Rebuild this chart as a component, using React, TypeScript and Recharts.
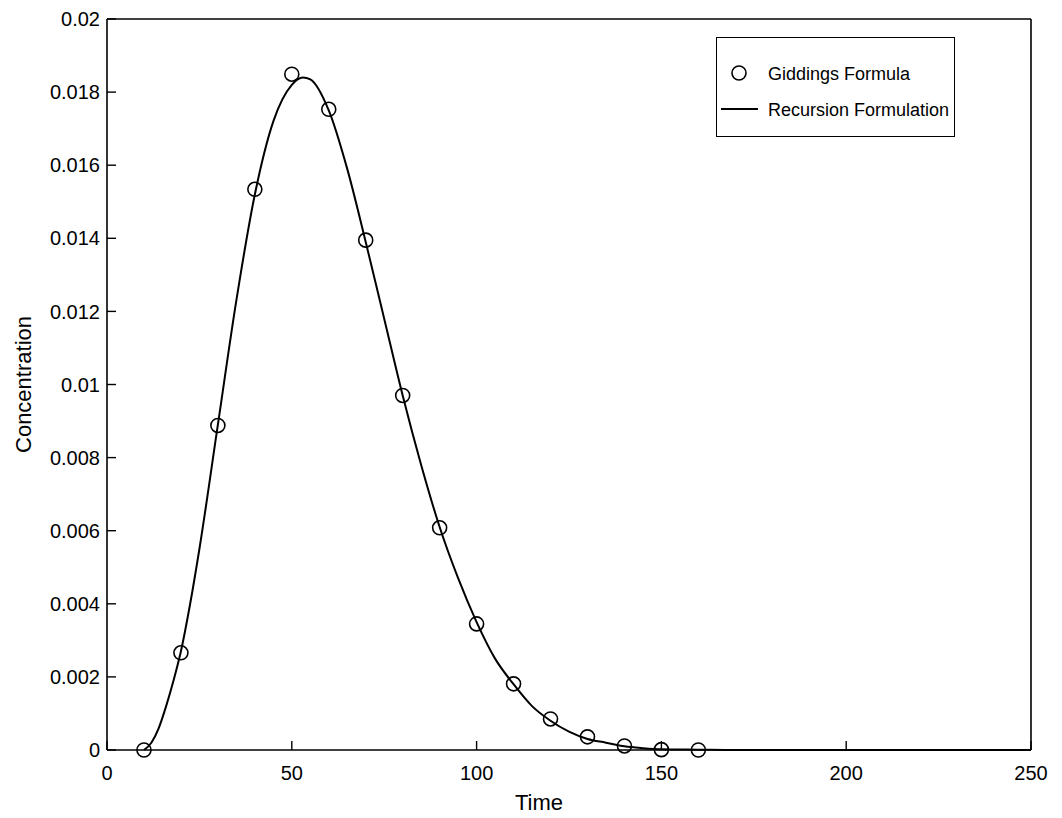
import React from "react";
import {
  ComposedChart, Line, Scatter, XAxis, YAxis, Legend, Label,
} from "recharts";

const giddingsTime = [10, 20, 30, 40, 50, 60, 70, 80, 90, 100, 110, 120, 130, 140, 150, 160];
const giddingsConc = [
  0, 0.00266, 0.00888, 0.01534, 0.01849, 0.01753, 0.01395, 0.0097,
  0.00608, 0.00345, 0.00181, 0.00085, 0.00036, 0.00011, 0.00001, 0,
];

const recursionTime = [
  10, 12, 14, 16, 18, 20, 22.5, 25, 30, 35, 40, 45, 50, 53, 55, 60, 65, 70, 75, 80,
  85, 90, 95, 100, 105, 110, 115, 120, 125, 130, 135, 140, 145, 150, 160, 170, 180, 200, 250,
];
const recursionConc = [
  0, 0.0002, 0.0006, 0.0012, 0.0019, 0.0027, 0.004, 0.0055, 0.0089, 0.0123, 0.0152,
  0.0172, 0.0182, 0.0184, 0.01835, 0.0175, 0.0159, 0.0139, 0.0118, 0.0097,
  0.0078, 0.0061, 0.0047, 0.0035, 0.0025, 0.0018, 0.0012, 0.0008, 0.0005,
  0.0003, 0.0002, 0.0001, 0.00005, 0.00002, 0.00001, 0, 0, 0, 0,
];

const xTicks = [0, 50, 100, 150, 200, 250];
const yTicks = [0, 0.002, 0.004, 0.006, 0.008, 0.01, 0.012, 0.014, 0.016, 0.018, 0.02];

const giddingsData = giddingsTime.map((t, i) => ({ t, c: giddingsConc[i] }));
const recursionData = recursionTime.map((t, i) => ({ t, c: recursionConc[i] }));

const FONT = "'Liberation Sans', Arial, Helvetica, sans-serif";
const tickStyle = { fontSize: 20, fill: "#000", fontFamily: FONT };
const blank = () => "";

function OpenCircle(props: any) {
  const { cx, cy } = props;
  if (cx == null || cy == null) return null;
  return <circle cx={cx} cy={cy} r={7} fill="none" stroke="#000" strokeWidth={1.6} />;
}

// legend box drawn absolutely, wrapper kept at 0x0 so it does not eat plot space
function LegendBox() {
  return (
    <div
      style={{
        position: "absolute",
        left: 0,
        top: 0,
        width: 239,
        height: 100,
        border: "1.5px solid #000",
        background: "#fff",
        boxSizing: "border-box",
      }}
    >
      <svg width={236} height={97} style={{ display: "block" }}>
        <circle cx={22} cy={35} r={7} fill="none" stroke="#000" strokeWidth={1.6} />
        <text x={51} y={42} fontSize={18} fontFamily={FONT}>Giddings Formula</text>
        <line x1={4} x2={41} y1={71} y2={71} stroke="#000" strokeWidth={2} />
        <text x={51} y={78} fontSize={18} fontFamily={FONT}>Recursion Formulation</text>
      </svg>
    </div>
  );
}

export default function App() {
  return (
    <div style={{ width: 1046, height: 810, background: "#fff" }}>
      <ComposedChart
        width={1046}
        height={810}
        margin={{ top: 10, right: 22, bottom: 28, left: 29 }}
      >
        <XAxis
          dataKey="t"
          type="number"
          domain={[0, 250]}
          ticks={xTicks}
          interval={0}
          tick={tickStyle}
          tickSize={-9}
          tickMargin={25}
          height={40}
          axisLine={{ stroke: "#000", strokeWidth: 1.6 }}
          tickLine={{ stroke: "#000", strokeWidth: 1.4 }}
        >
          <Label
            content={(p: any) => {
              const vb = p.viewBox || {};
              return (
                <text
                  x={vb.x + vb.width / 2 - 30}
                  y={794}
                  textAnchor="middle"
                  dominantBaseline="central"
                  fontSize={22}
                  fontFamily={FONT}
                  fill="#000"
                >
                  Time
                </text>
              );
            }}
          />
        </XAxis>
        <XAxis
          xAxisId="top"
          orientation="top"
          dataKey="t"
          type="number"
          domain={[0, 250]}
          ticks={xTicks}
          interval={0}
          tickFormatter={blank}
          tickSize={-9}
          height={1}
          axisLine={{ stroke: "#000", strokeWidth: 1.6 }}
          tickLine={{ stroke: "#000", strokeWidth: 1.4 }}
        />
        <YAxis
          type="number"
          domain={[0, 0.02]}
          ticks={yTicks}
          interval={0}
          tick={tickStyle}
          tickSize={-9}
          tickMargin={16}
          width={70}
          axisLine={{ stroke: "#000", strokeWidth: 1.6 }}
          tickLine={{ stroke: "#000", strokeWidth: 1.4 }}
        >
          <Label
            content={(p: any) => {
              const vb = p.viewBox || {};
              const cy = vb.y + vb.height / 2;
              return (
                <text
                  x={15}
                  y={cy}
                  transform={`rotate(-90, 15, ${cy})`}
                  textAnchor="middle"
                  dominantBaseline="central"
                  fontSize={22}
                  fontFamily={FONT}
                  fill="#000"
                >
                  Concentration
                </text>
              );
            }}
          />
        </YAxis>
        <YAxis
          yAxisId="right"
          orientation="right"
          type="number"
          domain={[0, 0.02]}
          ticks={yTicks}
          interval={0}
          tickFormatter={blank}
          tickSize={-9}
          width={1}
          axisLine={{ stroke: "#000", strokeWidth: 1.6 }}
          tickLine={{ stroke: "#000", strokeWidth: 1.4 }}
        />
        <Legend
          content={() => <LegendBox />}
          wrapperStyle={{ position: "absolute", left: 708, top: 29, width: 0, height: 0, overflow: "visible" }}
        />
        <Line
          data={recursionData}
          dataKey="c"
          type="monotone"
          stroke="#000"
          strokeWidth={2}
          dot={false}
          activeDot={false}
          isAnimationActive={false}
          name="Recursion Formulation"
        />
        <Scatter
          data={giddingsData}
          dataKey="c"
          shape={<OpenCircle />}
          isAnimationActive={false}
          name="Giddings Formula"
        />
      </ComposedChart>
    </div>
  );
}
